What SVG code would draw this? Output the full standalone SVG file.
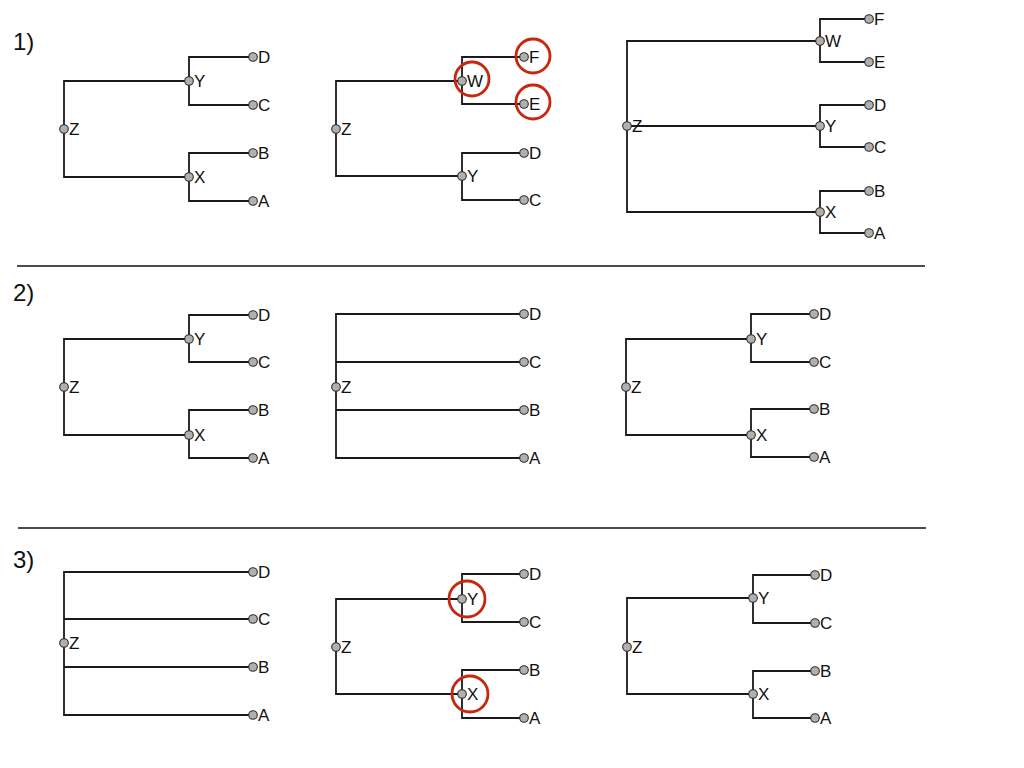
<svg xmlns="http://www.w3.org/2000/svg" width="1024" height="768" viewBox="0 0 1024 768">
<style>
.e{fill:none;stroke:#1a1a1a;stroke-width:1.8}
.n{fill:#b0b0b0;stroke:#2a2a2a;stroke-width:1.1}
.t{font-family:"Liberation Sans",Arial,sans-serif;font-size:17px;fill:#111}
.h{font-family:"Liberation Sans",Arial,sans-serif;font-size:24px;fill:#111}
.r{fill:none;stroke:#c8260e;stroke-width:2.8}
.s{stroke:#111;stroke-width:1.7}
</style>
<rect width="1024" height="768" fill="#fff"/>
<g id="headings">
<text class="h" x="13" y="49.5">1)</text>
<text class="h" x="13" y="300.5">2)</text>
<text class="h" x="13" y="567.5">3)</text>
<line class="s" x1="17" y1="266" x2="925" y2="266"/>
<line class="s" x1="18" y1="528" x2="926" y2="528"/>
</g>
<g id="connectors">
<path class="e" d="M189 81H64V177H189M253 57H189V105H253M253 153H189V201H253"/>
<path class="e" d="M462 81H336V176H462M524 57H462V104H524M524 153H462V200H524"/>
<path class="e" d="M820 41H627V212H820M627 126H820M869 19H820V62H869M869 105H820V147H869M869 191H820V233H869"/>
<path class="e" d="M189 339H64V435H189M253 315H189V362H253M253 410H189V458H253"/>
<path class="e" d="M524 314H336V458H524M336 362H524M336 410H524"/>
<path class="e" d="M751 339H626V435H751M814 314H751V362H814M814 409H751V457H814"/>
<path class="e" d="M253 572H64V715H253M64 619H253M64 667H253"/>
<path class="e" d="M462 599H336V694H462M524 574H462V622H524M524 670H462V718H524"/>
<path class="e" d="M753 598H627V694H753M815 575H753V623H815M815 671H753V718H815"/>
</g>
<g id="tree1a">
<g id="t1a-Z"><circle class="n" cx="64" cy="129" r="4.3"/><text class="t" x="69" y="135">Z</text></g>
<g id="t1a-Y"><circle class="n" cx="189" cy="81" r="4.3"/><text class="t" x="194" y="87">Y</text></g>
<g id="t1a-X"><circle class="n" cx="189" cy="177" r="4.3"/><text class="t" x="194" y="183">X</text></g>
<g id="t1a-D"><circle class="n" cx="253" cy="57" r="4.3"/><text class="t" x="258" y="63">D</text></g>
<g id="t1a-C"><circle class="n" cx="253" cy="105" r="4.3"/><text class="t" x="258" y="111">C</text></g>
<g id="t1a-B"><circle class="n" cx="253" cy="153" r="4.3"/><text class="t" x="258" y="159">B</text></g>
<g id="t1a-A"><circle class="n" cx="253" cy="201" r="4.3"/><text class="t" x="258" y="207">A</text></g>
</g>
<g id="tree1b">
<g id="t1b-Z"><circle class="n" cx="336" cy="129" r="4.3"/><text class="t" x="341" y="135">Z</text></g>
<g id="t1b-W"><circle class="n" cx="462" cy="81" r="4.3"/><text class="t" x="467" y="87">W</text><circle class="r" cx="472" cy="79" r="17"/></g>
<g id="t1b-Y"><circle class="n" cx="462" cy="176" r="4.3"/><text class="t" x="467" y="182">Y</text></g>
<g id="t1b-F"><circle class="n" cx="524" cy="57" r="4.3"/><text class="t" x="529" y="63">F</text><circle class="r" cx="533" cy="56" r="17"/></g>
<g id="t1b-E"><circle class="n" cx="524" cy="104" r="4.3"/><text class="t" x="529" y="110">E</text><circle class="r" cx="533" cy="102" r="17"/></g>
<g id="t1b-D"><circle class="n" cx="524" cy="153" r="4.3"/><text class="t" x="529" y="159">D</text></g>
<g id="t1b-C"><circle class="n" cx="524" cy="200" r="4.3"/><text class="t" x="529" y="206">C</text></g>
</g>
<g id="tree1c">
<g id="t1c-Z"><circle class="n" cx="627" cy="126" r="4.3"/><text class="t" x="632" y="132">Z</text></g>
<g id="t1c-W"><circle class="n" cx="820" cy="41" r="4.3"/><text class="t" x="825" y="47">W</text></g>
<g id="t1c-Y"><circle class="n" cx="820" cy="126" r="4.3"/><text class="t" x="825" y="132">Y</text></g>
<g id="t1c-X"><circle class="n" cx="820" cy="212" r="4.3"/><text class="t" x="825" y="218">X</text></g>
<g id="t1c-F"><circle class="n" cx="869" cy="19" r="4.3"/><text class="t" x="874" y="25">F</text></g>
<g id="t1c-E"><circle class="n" cx="869" cy="62" r="4.3"/><text class="t" x="874" y="68">E</text></g>
<g id="t1c-D"><circle class="n" cx="869" cy="105" r="4.3"/><text class="t" x="874" y="111">D</text></g>
<g id="t1c-C"><circle class="n" cx="869" cy="147" r="4.3"/><text class="t" x="874" y="153">C</text></g>
<g id="t1c-B"><circle class="n" cx="869" cy="191" r="4.3"/><text class="t" x="874" y="197">B</text></g>
<g id="t1c-A"><circle class="n" cx="869" cy="233" r="4.3"/><text class="t" x="874" y="239">A</text></g>
</g>
<g id="tree2a">
<g id="t2a-Z"><circle class="n" cx="64" cy="387" r="4.3"/><text class="t" x="69" y="393">Z</text></g>
<g id="t2a-Y"><circle class="n" cx="189" cy="339" r="4.3"/><text class="t" x="194" y="345">Y</text></g>
<g id="t2a-X"><circle class="n" cx="189" cy="435" r="4.3"/><text class="t" x="194" y="441">X</text></g>
<g id="t2a-D"><circle class="n" cx="253" cy="315" r="4.3"/><text class="t" x="258" y="321">D</text></g>
<g id="t2a-C"><circle class="n" cx="253" cy="362" r="4.3"/><text class="t" x="258" y="368">C</text></g>
<g id="t2a-B"><circle class="n" cx="253" cy="410" r="4.3"/><text class="t" x="258" y="416">B</text></g>
<g id="t2a-A"><circle class="n" cx="253" cy="458" r="4.3"/><text class="t" x="258" y="464">A</text></g>
</g>
<g id="tree2b">
<g id="t2b-Z"><circle class="n" cx="336" cy="387" r="4.3"/><text class="t" x="341" y="393">Z</text></g>
<g id="t2b-D"><circle class="n" cx="524" cy="314" r="4.3"/><text class="t" x="529" y="320">D</text></g>
<g id="t2b-C"><circle class="n" cx="524" cy="362" r="4.3"/><text class="t" x="529" y="368">C</text></g>
<g id="t2b-B"><circle class="n" cx="524" cy="410" r="4.3"/><text class="t" x="529" y="416">B</text></g>
<g id="t2b-A"><circle class="n" cx="524" cy="458" r="4.3"/><text class="t" x="529" y="464">A</text></g>
</g>
<g id="tree2c">
<g id="t2c-Z"><circle class="n" cx="626" cy="387" r="4.3"/><text class="t" x="631" y="393">Z</text></g>
<g id="t2c-Y"><circle class="n" cx="751" cy="339" r="4.3"/><text class="t" x="756" y="345">Y</text></g>
<g id="t2c-X"><circle class="n" cx="751" cy="435" r="4.3"/><text class="t" x="756" y="441">X</text></g>
<g id="t2c-D"><circle class="n" cx="814" cy="314" r="4.3"/><text class="t" x="819" y="320">D</text></g>
<g id="t2c-C"><circle class="n" cx="814" cy="362" r="4.3"/><text class="t" x="819" y="368">C</text></g>
<g id="t2c-B"><circle class="n" cx="814" cy="409" r="4.3"/><text class="t" x="819" y="415">B</text></g>
<g id="t2c-A"><circle class="n" cx="814" cy="457" r="4.3"/><text class="t" x="819" y="463">A</text></g>
</g>
<g id="tree3a">
<g id="t3a-Z"><circle class="n" cx="64" cy="643" r="4.3"/><text class="t" x="69" y="649">Z</text></g>
<g id="t3a-D"><circle class="n" cx="253" cy="572" r="4.3"/><text class="t" x="258" y="578">D</text></g>
<g id="t3a-C"><circle class="n" cx="253" cy="619" r="4.3"/><text class="t" x="258" y="625">C</text></g>
<g id="t3a-B"><circle class="n" cx="253" cy="667" r="4.3"/><text class="t" x="258" y="673">B</text></g>
<g id="t3a-A"><circle class="n" cx="253" cy="715" r="4.3"/><text class="t" x="258" y="721">A</text></g>
</g>
<g id="tree3b">
<g id="t3b-Z"><circle class="n" cx="336" cy="647" r="4.3"/><text class="t" x="341" y="653">Z</text></g>
<g id="t3b-Y"><circle class="n" cx="462" cy="599" r="4.3"/><text class="t" x="467" y="605">Y</text><circle class="r" cx="467" cy="599" r="18"/></g>
<g id="t3b-X"><circle class="n" cx="462" cy="694" r="4.3"/><text class="t" x="467" y="700">X</text><circle class="r" cx="470" cy="694" r="18"/></g>
<g id="t3b-D"><circle class="n" cx="524" cy="574" r="4.3"/><text class="t" x="529" y="580">D</text></g>
<g id="t3b-C"><circle class="n" cx="524" cy="622" r="4.3"/><text class="t" x="529" y="628">C</text></g>
<g id="t3b-B"><circle class="n" cx="524" cy="670" r="4.3"/><text class="t" x="529" y="676">B</text></g>
<g id="t3b-A"><circle class="n" cx="524" cy="718" r="4.3"/><text class="t" x="529" y="724">A</text></g>
</g>
<g id="tree3c">
<g id="t3c-Z"><circle class="n" cx="627" cy="647" r="4.3"/><text class="t" x="632" y="653">Z</text></g>
<g id="t3c-Y"><circle class="n" cx="753" cy="598" r="4.3"/><text class="t" x="758" y="604">Y</text></g>
<g id="t3c-X"><circle class="n" cx="753" cy="694" r="4.3"/><text class="t" x="758" y="700">X</text></g>
<g id="t3c-D"><circle class="n" cx="815" cy="575" r="4.3"/><text class="t" x="820" y="581">D</text></g>
<g id="t3c-C"><circle class="n" cx="815" cy="623" r="4.3"/><text class="t" x="820" y="629">C</text></g>
<g id="t3c-B"><circle class="n" cx="815" cy="671" r="4.3"/><text class="t" x="820" y="677">B</text></g>
<g id="t3c-A"><circle class="n" cx="815" cy="718" r="4.3"/><text class="t" x="820" y="724">A</text></g>
</g>
</svg>
